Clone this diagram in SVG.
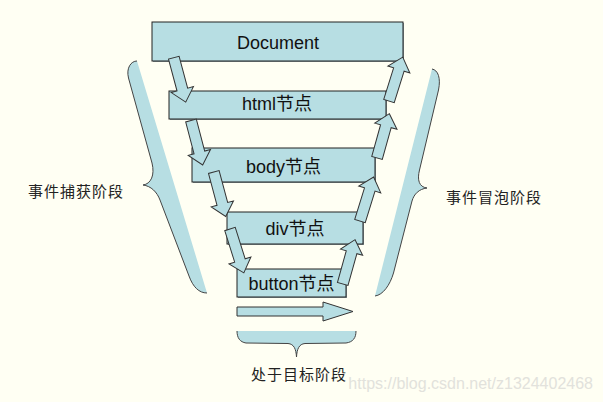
<svg xmlns="http://www.w3.org/2000/svg" xmlns:xlink="http://www.w3.org/1999/xlink" width="603" height="402" viewBox="0 0 603 402">
<style>
.box{fill:#B7DEE3;stroke:#222;stroke-width:1}
.shadow{fill:#8a9a9c}
.arr{fill:#B7DEE3;stroke:#333;stroke-width:1;stroke-linejoin:miter}
.band{fill:#B7DEE3;stroke:none}
.brace{fill:none;stroke:#444;stroke-width:1}
.lbl{font-family:"Liberation Sans","Noto Sans CJK SC",sans-serif;font-size:18px;fill:#111;text-anchor:middle}
.side{font-family:"Noto Sans CJK SC","Liberation Sans",sans-serif;font-size:15px;fill:#222;text-anchor:middle;letter-spacing:1px}
.wm{font-family:"Liberation Sans",sans-serif;font-size:16px;fill:#e2e2dc;text-anchor:end}
</style>
<defs>
<path id="a" d="M0,-5.5 L33,-5.5 L33,-11.5 L46,0 L33,11.5 L33,5.5 L0,5.5 Z"/>
</defs>
<rect x="0" y="0" width="603" height="402" fill="#FFFFF3"/>

<g id="brace-capture">
<path class="band" d="M137,61 C131,61 126,68 128.5,78 L152,163 C155,175 151,184 143,185 C151,186 157,192 160,200 L189,276 C193,287 199,293 207,293 Z"/>
<path class="brace" d="M137,61 C131,61 126,68 128.5,78 L152,163 C155,175 151,184 143,185 C151,186 157,192 160,200 L189,276 C193,287 199,293 207,293"/>
<text class="side" x="76" y="197">事件捕获阶段</text>
</g>

<g id="brace-bubble">
<path class="band" d="M432,69 C438,70 441,78 438.5,90 L419.5,170 C417,180 419,187 427,188 C419,189 414,194 412,201 L393.5,273 C390,285 383,295 375,296 Z"/>
<path class="brace" d="M432,69 C438,70 441,78 438.5,90 L419.5,170 C417,180 419,187 427,188 C419,189 414,194 412,201 L393.5,273 C390,285 383,295 375,296"/>
<text class="side" x="494" y="203">事件冒泡阶段</text>
</g>

<g id="brace-target">
<path class="band" d="M237,331 L356,331 C356,338 353,342 346,343 L305,343.5 C299,344 297,349 296.5,357 C296,349 294,344 288,343.5 L246,343 C240,342 237,338 237,331 Z"/>
<path class="brace" d="M356,331 C356,338 353,342 346,343 L305,343.5 C299,344 297,349 296.5,357 C296,349 294,344 288,343.5 L246,343 C240,342 237,338 237,331"/>
<text class="side" x="299" y="380">处于目标阶段</text>
</g>

<g id="document">
<rect class="shadow" x="153" y="23" width="251" height="39"/>
<rect class="box" x="152" y="22" width="251" height="39"/>
<text class="lbl" x="278" y="49">Document</text>
</g>
<g id="html">
<rect class="shadow" x="170" y="92" width="217" height="28"/>
<rect class="box" x="169" y="91" width="217" height="28"/>
<text class="lbl" x="277" y="110">html节点</text>
</g>
<g id="body">
<rect class="shadow" x="193" y="149" width="183" height="34"/>
<rect class="box" x="192" y="148" width="183" height="34"/>
<text class="lbl" x="283.5" y="172.5">body节点</text>
</g>
<g id="div">
<rect class="shadow" x="228" y="213" width="136" height="32"/>
<rect class="box" x="227" y="212" width="136" height="32"/>
<text class="lbl" x="295" y="235">div节点</text>
</g>
<g id="button">
<rect class="shadow" x="238" y="270" width="109" height="28"/>
<rect class="box" x="237" y="269" width="109" height="28"/>
<text class="lbl" x="291.5" y="289.5">button节点</text>
</g>

<g id="connectors">
<use xlink:href="#a" class="arr" transform="translate(173.8,57.7) rotate(75)"/>
<use xlink:href="#a" class="arr" transform="translate(191,120.5) rotate(75.3)"/>
<use xlink:href="#a" class="arr" transform="translate(213.8,172) rotate(75)"/>
<use xlink:href="#a" class="arr" transform="translate(230,229) rotate(72.5)"/>
<use xlink:href="#a" class="arr" transform="translate(342.7,284) rotate(-74.4)"/>
<use xlink:href="#a" class="arr" transform="translate(360,221) rotate(-72.8)"/>
<use xlink:href="#a" class="arr" transform="translate(377,158) rotate(-74.4)"/>
<use xlink:href="#a" class="arr" transform="translate(389,101) rotate(-72.6)"/>
<path class="arr" d="M237,307 L323,307 L323,302 L353,311.5 L323,321 L323,316 L237,316 Z"/>
</g>

<text class="wm" x="593" y="389">https://blog.csdn.net/z1324402468</text>
</svg>
